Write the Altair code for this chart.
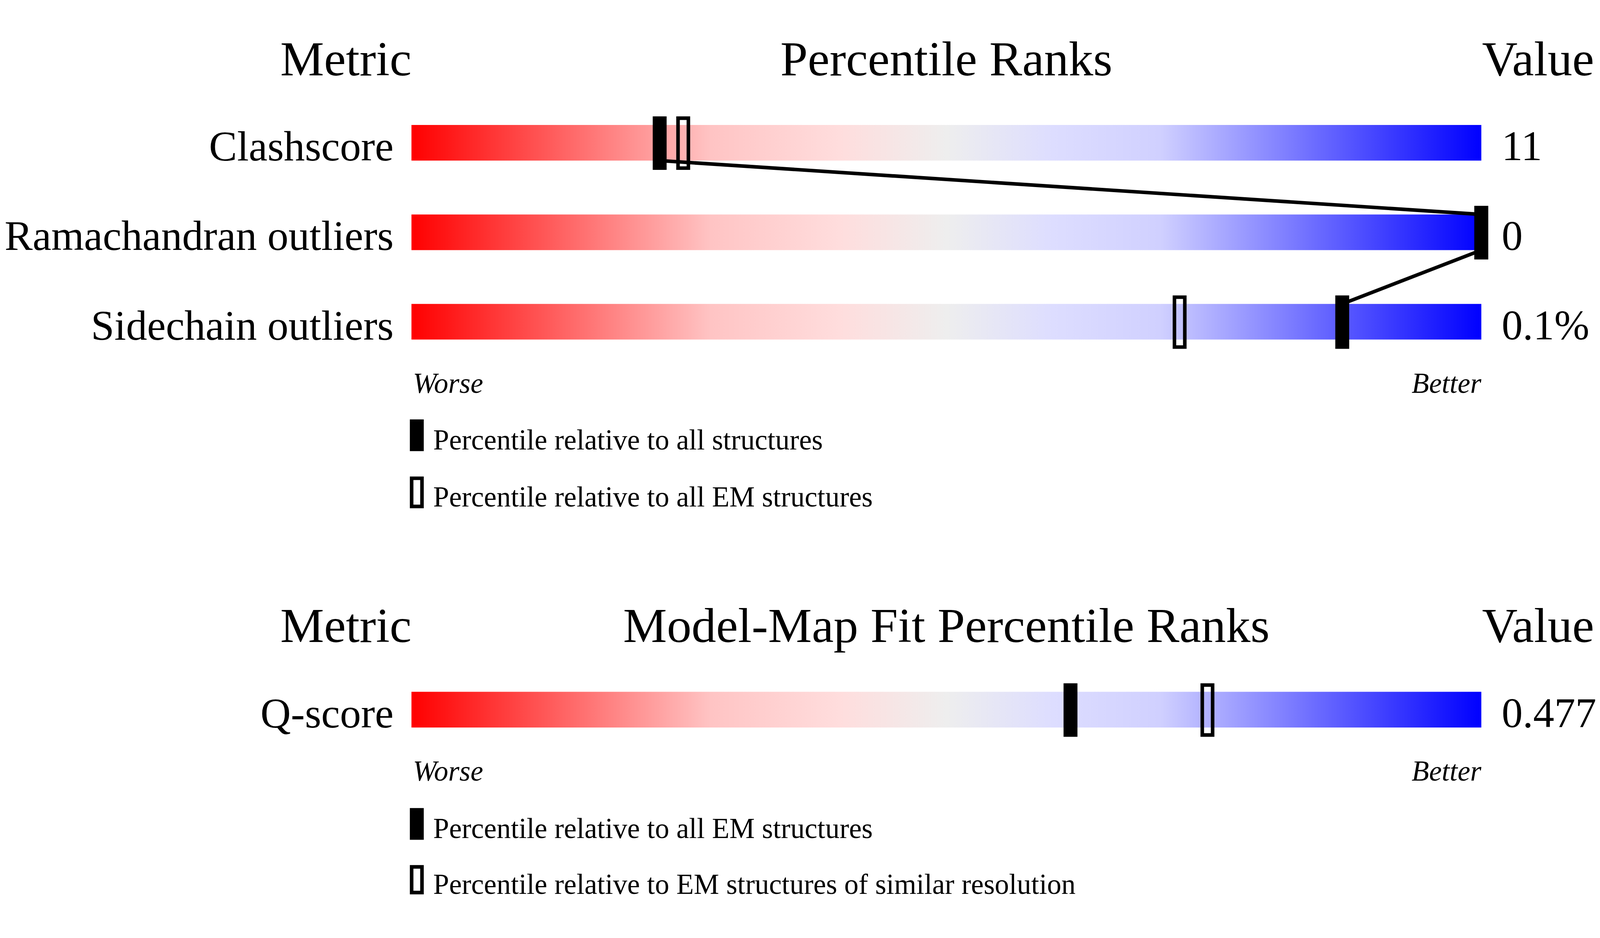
import altair as alt
import pandas as pd

# ---------------- data ----------------
geo_metrics = ["Clashscore", "Ramachandran outliers", "Sidechain outliers"]
geo_values = ["11", "0", "0.1%"]
geo_pct_all = [23.2, 100.0, 87.0]      # filled marker: relative to all structures
geo_pct_em = [25.4, 100.0, 71.8]       # open marker: relative to all EM structures

fit_metrics = ["Q-score"]
fit_values = ["0.477"]
fit_pct_em = [61.6]                    # filled marker: relative to all EM structures
fit_pct_res = [74.4]                   # open marker: EM structures of similar resolution

section_titles = ["Percentile Ranks", "Model-Map Fit Percentile Ranks"]
col_titles = ["Metric", "Value"]
scale_labels = ["Worse", "Better"]
geo_legend = ["Percentile relative to all structures",
              "Percentile relative to all EM structures"]
fit_legend = ["Percentile relative to all EM structures",
              "Percentile relative to EM structures of similar resolution"]

# ---------------- layout (pixels) ----------------
W, H = 4469, 2386
BAR_LEFT, BAR_WIDTH = 1145, 3000
BAR_H = 100
ROW_TOPS = [228, 479, 730, 1818]
TITLE_BASE = [89, 1678]
SCALE_BASE = [979, 2067]
LEGEND_TOPS = [1054, 1214, 2144, 2304]
LEGEND_H = 89
MARK_W = 39
MARK_ABOVE, MARK_BELOW = 24, 26
STROKE = 10
LINE_W = 10
FONT = "Liberation Serif"

px = 100.0 / BAR_WIDTH  # percentile units per pixel
xs = alt.Scale(domain=[-BAR_LEFT * px, (W - BAR_LEFT) * px], nice=False, zero=False)
ys = alt.Scale(domain=[H, 0], nice=False, zero=False)

gradient = alt.Gradient(
    gradient="linear", x1=0, x2=1, y1=0, y2=0,
    stops=[
        alt.GradientStop(color="#ff0000", offset=0.0),
        alt.GradientStop(color="#ffc4c4", offset=0.28),
        alt.GradientStop(color="#ffdddd", offset=0.40),
        alt.GradientStop(color="#eeeeee", offset=0.50),
        alt.GradientStop(color="#ddddff", offset=0.60),
        alt.GradientStop(color="#d0d0ff", offset=0.70),
        alt.GradientStop(color="#0000ff", offset=1.0),
    ],
)

metrics = geo_metrics + fit_metrics
values = geo_values + fit_values
p_filled = geo_pct_all + fit_pct_em
p_open = geo_pct_em + fit_pct_res

rows = pd.DataFrame({"metric": metrics, "value": values, "pf": p_filled, "po": p_open, "top": ROW_TOPS})
rows["bottom"] = rows["top"] + BAR_H
rows["lo"] = 0.0
rows["hi"] = 100.0

half = MARK_W / 2 * px
inner = (MARK_W - STROKE) / 2 * px


def X(f="x"):
    return alt.X(f"{f}:Q", scale=xs, axis=None)


def Y(f="y"):
    return alt.Y(f"{f}:Q", scale=ys, axis=None)


base = alt.Chart(rows)

bars = base.mark_rect(color=gradient).encode(x=X("lo"), x2="hi", y=Y("top"), y2="bottom")

open_marks = base.transform_calculate(
    xa=f"datum.po - {inner}", xb=f"datum.po + {inner}",
    ya=f"datum.top - {MARK_ABOVE - STROKE / 2}", yb=f"datum.bottom + {MARK_BELOW - STROKE / 2}",
).mark_rect(fillOpacity=0, stroke="black", strokeWidth=STROKE).encode(
    x=X("xa"), x2="xb", y=Y("ya"), y2="yb")

filled_marks = base.transform_calculate(
    xa=f"datum.pf - {half}", xb=f"datum.pf + {half}",
    ya=f"datum.top - {MARK_ABOVE}", yb=f"datum.bottom + {MARK_BELOW}",
).mark_rect(color="black").encode(x=X("xa"), x2="xb", y=Y("ya"), y2="yb")

# connecting line between the filled markers of the geometry section
n = len(geo_metrics)
segs = pd.DataFrame({
    "x1": geo_pct_all[:-1],
    "x2": geo_pct_all[1:],
    "y1": list(rows["bottom"][: n - 1]),
    "y2": list(rows["top"][1:n]),
})
line = alt.Chart(segs).mark_rule(color="black", strokeWidth=LINE_W).encode(
    x=X("x1"), x2="x2", y=Y("y1"), y2="y2")


def text_layer(df, size, align, dx=0, style="normal"):
    return alt.Chart(df).mark_text(
        font=FONT, fontSize=size, align=align, baseline="alphabetic",
        dx=dx, fontStyle=style, color="black",
    ).encode(x=X(), y=Y(), text="text:N")


labels = text_layer(pd.DataFrame({"text": metrics, "x": 0.0, "y": rows["bottom"]}), 118, "right", dx=-50)
vals = text_layer(pd.DataFrame({"text": values, "x": 100.0, "y": rows["bottom"] - 1}), 118, "left", dx=57)

t_metric = text_layer(pd.DataFrame({"text": [col_titles[0]] * 2, "x": 0.0, "y": TITLE_BASE}), 138, "right")
t_center = text_layer(pd.DataFrame({"text": section_titles, "x": 50.0, "y": TITLE_BASE}), 138, "center")
t_value = text_layer(pd.DataFrame({"text": [col_titles[1]] * 2, "x": 100.0, "y": TITLE_BASE}), 138, "left", dx=2)

worse = text_layer(pd.DataFrame({"text": [scale_labels[0]] * 2, "x": 0.0, "y": SCALE_BASE}), 80, "left", dx=4, style="italic")
better = text_layer(pd.DataFrame({"text": [scale_labels[1]] * 2, "x": 100.0, "y": SCALE_BASE}), 80, "right", style="italic")

leg = pd.DataFrame({"text": geo_legend + fit_legend, "top": LEGEND_TOPS,
                    "kind": ["filled", "open", "filled", "open"]})
leg["bottom"] = (leg["top"] + LEGEND_H).clip(upper=H)
leg["x"] = 0.0
leg["y"] = (leg["top"] + LEGEND_H - 5).clip(upper=H - 1)
leg["c"] = 0.5

leg_text = text_layer(leg, 80, "left", dx=61)
leg_filled = alt.Chart(leg).transform_filter("datum.kind == 'filled'").transform_calculate(
    xa=f"datum.c - {half}", xb=f"datum.c + {half}",
).mark_rect(color="black").encode(x=X("xa"), x2="xb", y=Y("top"), y2="bottom")
leg_open = alt.Chart(leg).transform_filter("datum.kind == 'open'").transform_calculate(
    xa=f"datum.c - {inner}", xb=f"datum.c + {inner}",
    ya=f"datum.top + {STROKE / 2}", yb=f"datum.bottom - {STROKE / 2}",
).mark_rect(fillOpacity=0, stroke="black", strokeWidth=STROKE).encode(
    x=X("xa"), x2="xb", y=Y("ya"), y2="yb")

chart = alt.layer(
    bars, open_marks, line, filled_marks,
    labels, vals, t_metric, t_center, t_value, worse, better,
    leg_filled, leg_open, leg_text,
).properties(
    width=W, height=H, padding=0, autosize="none", background="white",
).configure_view(stroke=None)

chart.save("out.html", embed_options={"renderer": "svg", "actions": False})
